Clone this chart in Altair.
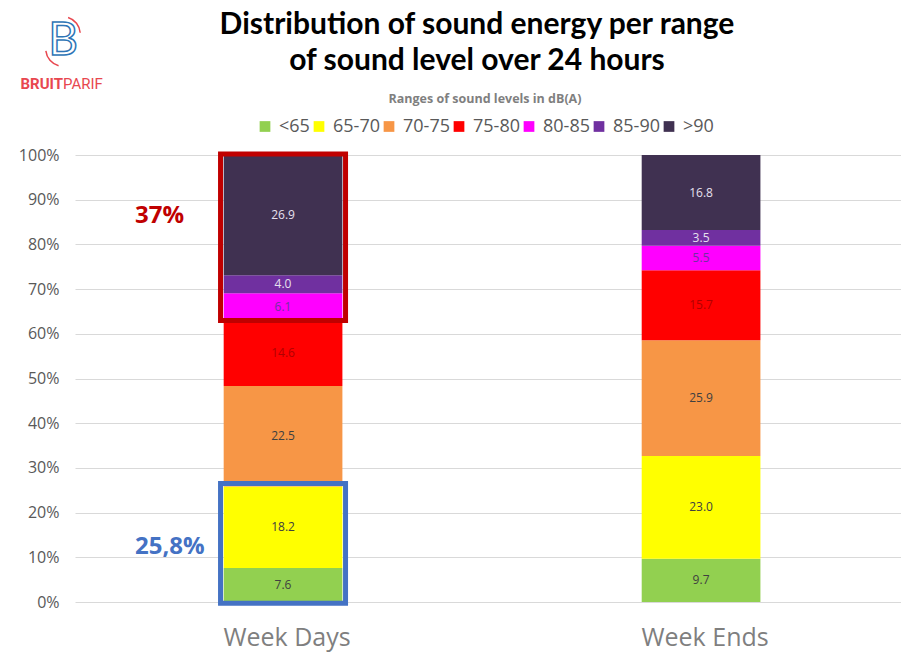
import altair as alt
import pandas as pd

# ---- data ----
categories = ["Week Days", "Week Ends"]
ranges = ["<65", "65-70", "70-75", "75-80", "80-85", "85-90", ">90"]
week_days = [7.6, 18.2, 22.5, 14.6, 6.1, 4.0, 26.9]
week_ends = [9.7, 23.0, 25.9, 15.7, 5.5, 3.5, 16.8]

# highlight boxes (share of 100%) on the Week Days bar
box_names = ["high", "low"]
box_from = [0.63, -0.003]
box_to = [1.002, 0.265]
box_texts = ["37%", "25,8%"]
box_text_y = [0.848, 0.107]

title_lines = ["Distribution of sound energy per range", "of sound level over 24 hours"]
legend_title = "Ranges of sound levels in dB(A)"

# ---- styles ----
bar_colors = ["#92D050", "#FFFF00", "#F79646", "#FF0000", "#FF00FF", "#7030A0", "#403151"]
label_colors = ["#404040", "#404040", "#404040", "#B00000", "#7030A0", "#E6E0EE", "#E6E0EE"]
FONT = "Open Sans"

rows = []
for cat, vals in zip(categories, [week_days, week_ends]):
    for i, (r, v) in enumerate(zip(ranges, vals)):
        rows.append({"cat": cat, "range": r, "idx": i, "value": v})
df = pd.DataFrame(rows)

xscale = alt.Scale(domain=categories, paddingInner=0.716, paddingOuter=0.346, align=0.514)
xenc = alt.X("cat:N", scale=xscale, sort=categories,
             axis=alt.Axis(title=None, labelAngle=0, domain=False, ticks=False,
                           labelFontSize=25, labelColor="#7F7F7F", labelPadding=23,
                           labelFont=FONT, grid=False, labelOffset=4))
yscale = alt.Scale(domain=[0, 1], nice=False)

base = (
    alt.Chart(df)
    .transform_joinaggregate(total="sum(value)", groupby=["cat"])
    .transform_calculate(frac="datum.value / datum.total", label="format(datum.value, '.1f')")
    .transform_stack(stack="frac", as_=["y0", "y1"], groupby=["cat"],
                     sort=[alt.SortField("idx", order="ascending")])
    .transform_calculate(ymid="(datum.y0 + datum.y1) / 2")
)

bars = base.mark_bar(width=alt.RelativeBandSize(1)).encode(
    x=xenc,
    y=alt.Y("y0:Q", scale=yscale,
            axis=alt.Axis(title=None, values=[i / 10 for i in range(11)], format=".0%",
                          domain=False, ticks=False, labelFontSize=16, labelColor="#595959",
                          labelFont=FONT, labelPadding=16, gridColor="#D9D9D9", gridWidth=1.2)),
    y2="y1:Q",
    color=alt.Color("range:N", sort=ranges,
                    scale=alt.Scale(domain=ranges, range=bar_colors),
                    legend=alt.Legend(title=legend_title, orient="none", legendX=181, legendY=-62,
                                      direction="horizontal", columns=7, titleAnchor="middle",
                                      titleFontSize=12.5, titleFont=FONT, titleFontWeight="bold",
                                      titleColor="#7F7F7F", titlePadding=12, titleLimit=500,
                                      symbolType="square", symbolSize=115, symbolStrokeWidth=0,
                                      labelFontSize=18, labelFont=FONT, labelColor="#595959",
                                      labelOffset=5, columnPadding=-7)),
)

labels = base.mark_text(fontSize=12, font=FONT).encode(
    x=alt.X("cat:N", scale=xscale, sort=categories),
    y=alt.Y("ymid:Q", scale=yscale),
    text="label:N",
    color=alt.Color("range:N", scale=alt.Scale(domain=ranges, range=label_colors), legend=None),
)

boxes_df = pd.DataFrame({"name": box_names, "cat": [categories[0]] * 2,
                         "y": box_from, "y2": box_to, "t": box_texts, "ty": box_text_y})
box_colors = ["#C00000", "#4472C4"]

boxes = alt.Chart(boxes_df).mark_bar(filled=False, strokeWidth=5,
                                     width=alt.RelativeBandSize(1.053)).encode(
    x=alt.X("cat:N", scale=xscale, sort=categories),
    y=alt.Y("y:Q", scale=yscale),
    y2="y2:Q",
    stroke=alt.Stroke("name:N", scale=alt.Scale(domain=box_names, range=box_colors), legend=None),
)

box_labels = alt.Chart(boxes_df).mark_text(fontSize=24, font=FONT, fontWeight="bold",
                                           baseline="alphabetic", align="left").encode(
    x=alt.value(60),
    y=alt.Y("ty:Q", scale=yscale),
    text="t:N",
    color=alt.Color("name:N", scale=alt.Scale(domain=box_names, range=box_colors), legend=None),
)

title1 = alt.Chart(pd.DataFrame({"line": [title_lines[0]]})).mark_text(
    fontSize=30, font="Lato", fontWeight="bold", color="#000000", baseline="middle"
).encode(x=alt.value(402), y=alt.value(-130), text="line:N")
title2 = alt.Chart(pd.DataFrame({"line": [title_lines[1]]})).mark_text(
    fontSize=30, font="Lato", fontWeight="bold", color="#000000", baseline="middle"
).encode(x=alt.value(402), y=alt.value(-94), text="line:N")

logo_font = "Liberation Sans Narrow, Roboto, sans-serif"
logo_bruit = alt.Chart(pd.DataFrame({"a": ["BRUIT"]})).mark_text(
    fontSize=15, font=logo_font, color="#E8474F", align="right", baseline="middle",
    fontWeight="bold"
).encode(x=alt.value(-12), y=alt.value(-71), text="a:N")
logo_parif = alt.Chart(pd.DataFrame({"a": ["PARIF"]})).mark_text(
    fontSize=15, font=logo_font, color="#E8474F", align="left", baseline="middle",
    fontWeight="normal"
).encode(x=alt.value(-12), y=alt.value(-71), text="a:N")

logo_b = alt.Chart(pd.DataFrame({"a": ["B"]})).mark_text(
    text="B", fontSize=46, font="Lato", fill="#FFFFFF", stroke="#2E75B6", strokeWidth=1.5,
    align="center", baseline="middle"
).encode(x=alt.value(-12), y=alt.value(-114))

arc1 = alt.Chart(pd.DataFrame({"p": ["a"]})).mark_arc(
    radius=18, radius2=16.5, theta=0.3, theta2=1.5, color="#E8474F"
).encode(x=alt.value(-12), y=alt.value(-121))
arc2 = alt.Chart(pd.DataFrame({"p": ["b"]})).mark_arc(
    radius=18, radius2=16.5, theta=3.4, theta2=4.6, color="#E8474F"
).encode(x=alt.value(-12), y=alt.value(-106))

chart = (
    alt.layer(bars, labels, boxes, box_labels, title1, title2, logo_b, arc1, arc2,
              logo_bruit, logo_parif)
    .resolve_scale(color="independent", stroke="independent", y="shared")
    .properties(width=826, height=447,
                autosize=alt.AutoSizeParams(type="none"),
                padding={"left": 67, "top": 147, "right": 0, "bottom": 50})
    .configure_view(stroke=None)
)

chart.save("out.html", embed_options={"renderer": "svg", "actions": False})
